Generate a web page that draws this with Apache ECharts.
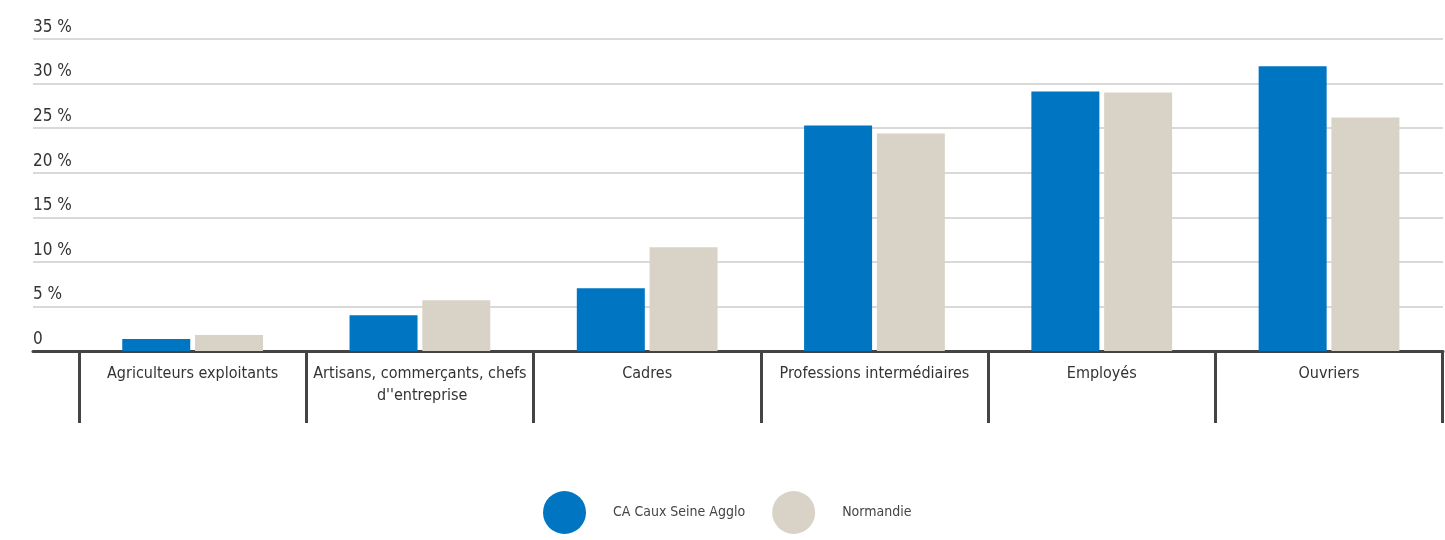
<!DOCTYPE html>
<html>
<head>
<meta charset="utf-8">
<script src="https://cdn.jsdelivr.net/npm/echarts@6/dist/echarts.min.js"></script>
<style>
  html, body { margin: 0; padding: 0; background: #fff; }
  #chart { width: 1445px; height: 540px; }
</style>
</head>
<body>
<div id="chart"></div>
<script>
// données (%)
const categories = [
  'Agriculteurs exploitants',
  "Artisans, commerçants, chefs d''entreprise",
  'Cadres',
  'Professions intermédiaires',
  'Employés',
  'Ouvriers'
];
const caux = [1.35, 4.0, 7.05, 25.3, 29.1, 31.95];
const normandie = [1.8, 5.7, 11.65, 24.4, 29.0, 26.2];
const yTicks = [0, 5, 10, 15, 20, 25, 30, 35];

const FONT = '"Liberation Sans Narrow", "DejaVu Sans Condensed", "Roboto", sans-serif';
const chart = echarts.init(document.getElementById('chart'));

chart.setOption({
  animation: false,
  textStyle: { fontFamily: FONT },
  legend: {
    left: 538,
    top: 486,
    icon: 'circle',
    itemWidth: 43,
    itemHeight: 43,
    itemGap: 27,
    textStyle: { fontFamily: FONT, fontSize: 14, color: '#444', padding: [0, 0, 0, 22] },
    data: ['CA Caux Seine Agglo', 'Normandie']
  },
  grid: [
    // grille de fond : lignes horizontales + axe
    { left: 33, right: 2, top: 39, bottom: 189, containLabel: false },
    // grille des barres
    { left: 79, right: 2, top: 39, bottom: 189, containLabel: false }
  ],
  xAxis: [
    {
      gridIndex: 0, type: 'value', min: 0, max: 1,
      axisLine: { show: true, onZero: false, lineStyle: { color: '#444', width: 3 } },
      axisTick: { show: false }, axisLabel: { show: false }, splitLine: { show: false }
    },
    {
      gridIndex: 1, type: 'category', data: categories,
      axisLine: { show: false },
      axisTick: { show: true, length: 72, lineStyle: { color: '#444', width: 3 } },
      axisLabel: {
        interval: 0, margin: 12, fontSize: 16, color: '#333', lineHeight: 22,
        width: 226, overflow: 'break', fontFamily: FONT
      }
    }
  ],
  yAxis: [
    {
      gridIndex: 0, type: 'value', min: 0, max: 35, interval: 5,
      axisLine: { show: false }, axisTick: { show: false },
      splitLine: { lineStyle: { color: '#d9d9d9', width: 2 } },
      axisLabel: {
        margin: 0, align: 'left', verticalAlign: 'bottom', padding: [0, 0, 3, 0],
        fontSize: 17, color: '#333', fontFamily: FONT,
        formatter: v => (yTicks.includes(v) && v !== 0 ? v + ' %' : String(v))
      }
    },
    {
      gridIndex: 1, type: 'value', min: 0, max: 35, interval: 5, show: false
    }
  ],
  series: [
    {
      name: 'CA Caux Seine Agglo', type: 'bar', xAxisIndex: 1, yAxisIndex: 1,
      data: caux, barWidth: 68, barGap: '7%',
      itemStyle: { color: '#0075c2' }
    },
    {
      name: 'Normandie', type: 'bar', xAxisIndex: 1, yAxisIndex: 1,
      data: normandie, barWidth: 68, barGap: '7%',
      itemStyle: { color: '#d9d3c7' }
    }
  ]
});
</script>
</body>
</html>
